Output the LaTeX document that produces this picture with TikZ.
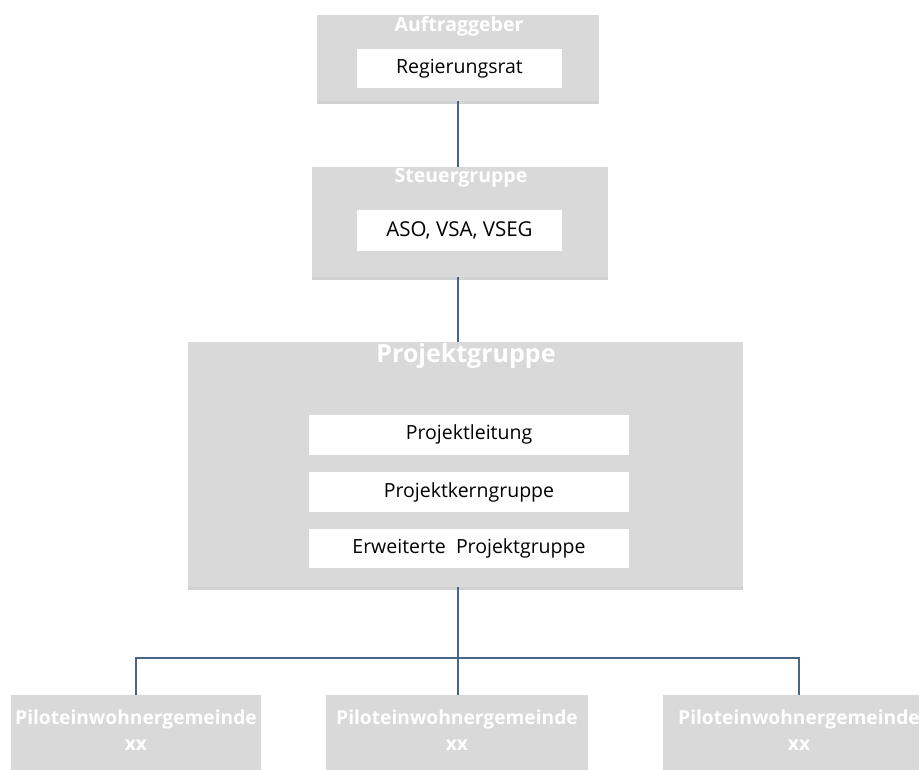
\documentclass[tikz,border=0pt]{standalone}
\usepackage{fontspec}
\setmainfont{Open Sans}
\usepackage{tikz}
\usetikzlibrary{shadows}
\definecolor{boxc}{HTML}{D9D9D9}
\definecolor{linec}{HTML}{4A6485}
\tikzset{
  grpbox/.style={fill=boxc, draw=none, inner sep=0pt},
  grp/.style={grpbox, drop shadow={shadow xshift=0pt, shadow yshift=-2.5pt, opacity=.35}},
  grptitle/.style={text=white, inner sep=0pt, font=\bfseries\fontsize{19.5}{22}\selectfont},
  member/.style={fill=white, inner sep=0pt, minimum height=40pt, font=\fontsize{19.5}{22}\selectfont},
  conn/.style={draw=linec, line width=1.4pt}
}

\begin{document}
\begin{tikzpicture}[x=1pt,y=-1pt]
  \clip (0,0) rectangle (919,769);
  \fill[white] (0,0) rectangle (919,769);

  % Auftraggeber
  \node[grp, minimum width=282pt, minimum height=86pt] (auftrag) at (458,58) {};
  \node[grptitle] (auftragt) at (459,26) {Auftraggeber};
  \node[member, minimum width=205pt, minimum height=39pt] (regrat) at (459.5,68.5) {Regierungsrat};

  % Steuergruppe
  \node[grp, minimum width=296pt, minimum height=110pt] (steuer) at (460,222) {};
  \node[grptitle] (steuert) at (461,178) {Steuergruppe};
  \node[member, minimum width=205pt, minimum height=41pt, font=\fontsize{20.5}{23}\selectfont] (aso) at (459.5,230.5) {ASO, VSA, VSEG};

  % Projektgruppe
  \node[grp, minimum width=555pt, minimum height=245pt] (projekt) at (465.5,464.5) {};
  \node[grptitle, font=\bfseries\fontsize{25}{28}\selectfont] (projektt) at (466,356) {Projektgruppe};
  \node[member, minimum width=320pt] (leitung) at (469,434.5) {Projektleitung};
  \node[member, minimum width=320pt] (kern) at (469,492) {Projektkerngruppe};
  \node[member, minimum width=320pt, minimum height=39pt] (erw) at (469,548.5) {Erweiterte\ \ Projektgruppe};

  % Piloteinwohnergemeinden
  \node[grpbox, minimum width=250pt, minimum height=90pt] (pilota) at (136,740) {};
  \node[grpbox, minimum width=262pt, minimum height=90pt] (pilotb) at (457,740) {};
  \node[grpbox, minimum width=272pt, minimum height=90pt] (pilotc) at (799,740) {};
  \foreach \p in {pilota,pilotb,pilotc}
    \node[grptitle, align=center, font=\bfseries\fontsize{19.2}{26}\selectfont] (\p t) at ([yshift=10pt]\p) {Piloteinwohnergemeinde\\xx};

  % connectors
  \coordinate (bus) at (458,658);
  \draw[conn] (auftrag.south -| bus) -- (steuer.north -| bus);
  \draw[conn] (steuer.south -| bus) -- (projekt.north -| bus);
  \draw[conn] (projekt.south -| bus) -- (bus);
  \draw[conn] (pilota.north) |- (bus) -| (pilotc.north);
  \draw[conn] (bus) -- (pilotb.north -| bus);
\end{tikzpicture}
\end{document}
